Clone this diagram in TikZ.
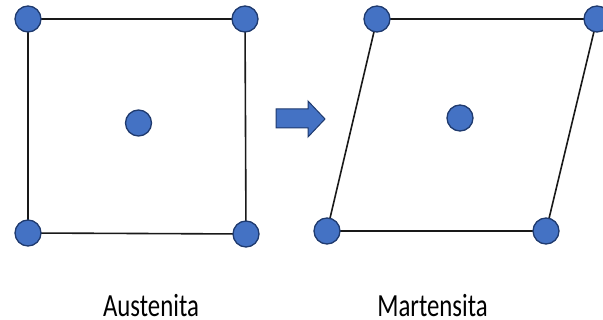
\documentclass[tikz,border=0pt]{standalone}
\usepackage{fontspec}
\setmainfont{Carlito}
\definecolor{dotfill}{HTML}{4472C4}
\definecolor{dotedge}{HTML}{1F3A6E}
\begin{document}
\begin{tikzpicture}[x=1pt,y=-1pt,
  atom/.style={circle,fill=dotfill,draw=dotedge,line width=1.3pt,minimum size=26pt,inner sep=0pt},
  cell/.style={draw=black!90,line width=1.6pt},
  lbl/.style={font=\fontsize{24.8}{28}\selectfont,text=black,anchor=base,inner sep=0pt}]
\useasboundingbox (0,0) rectangle (603,320);
% Austenita
\coordinate (a1) at (28,19);
\coordinate (a2) at (245,19);
\coordinate (a3) at (246,234);
\coordinate (a4) at (28,233);
\draw[cell] (a1) -- (a2) -- (a3) -- (a4) -- cycle;
\node[atom] (A1) at (a1) {};
\node[atom] (A2) at (a2) {};
\node[atom] (A3) at (a3) {};
\node[atom] (A4) at (a4) {};
\node[atom] (A5) at (138.5,123) {};
% Martensita
\coordinate (m1) at (377,19);
\coordinate (m2) at (597,19);
\coordinate (m3) at (546,231);
\coordinate (m4) at (327,231);
\draw[cell] (m1) -- (m2) -- (m3) -- (m4) -- cycle;
\node[atom] (M1) at (m1) {};
\node[atom] (M2) at (m2) {};
\node[atom] (M3) at (m3) {};
\node[atom] (M4) at (m4) {};
\node[atom] (M5) at (460,118) {};
% arrow
\draw[fill=dotfill,draw=dotedge,line width=1pt,line join=miter]
  (276,109) -- (308,109) -- (308,101) -- (325,119) -- (308,137) -- (308,128) -- (276,128) -- cycle;
% labels
\node[lbl] (L1) at (151,317) {\scalebox{1}[1.3]{Austenita}};
\node[lbl] (L2) at (432.5,317) {\scalebox{1}[1.3]{Martensita}};
\end{tikzpicture}
\end{document}
